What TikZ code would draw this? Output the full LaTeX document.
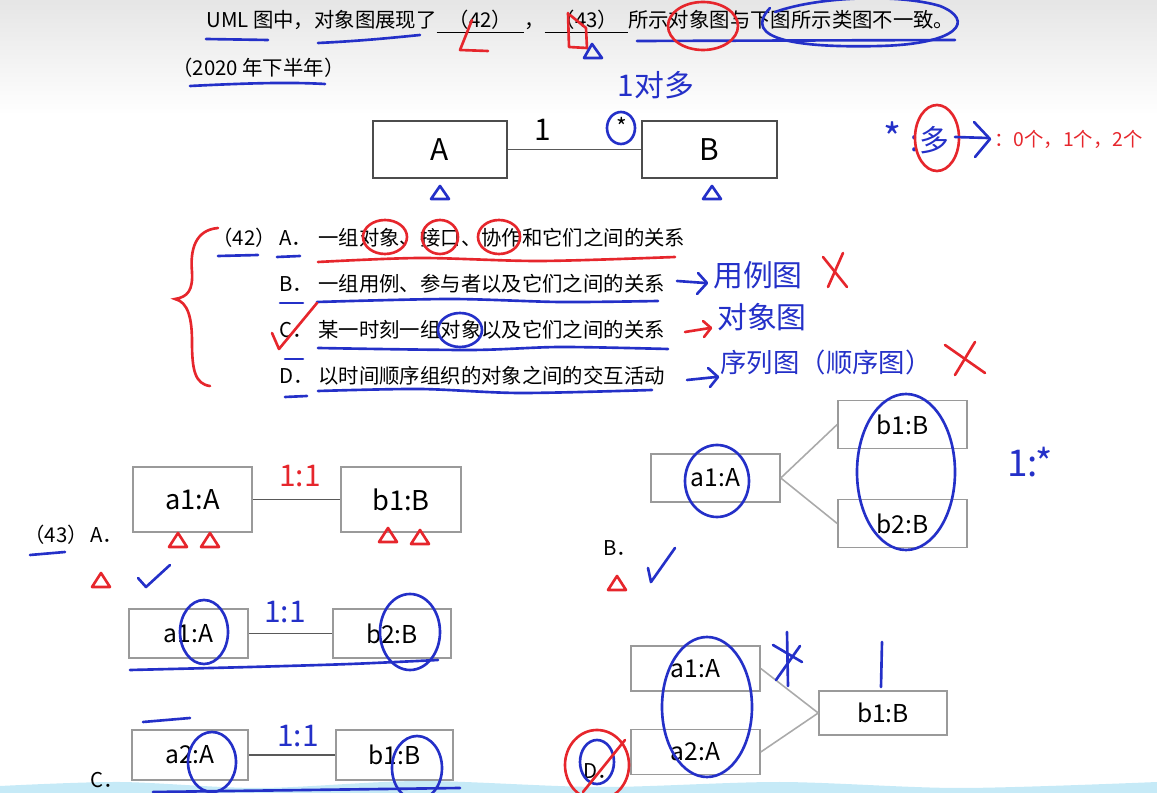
\documentclass[tikz,border=0pt]{standalone}
\usepackage{fontspec}
\setmainfont{Noto Sans CJK SC}
\usetikzlibrary{positioning}
\definecolor{penblue}{HTML}{2430C8}
\definecolor{penred}{HTML}{E6262C}
\definecolor{boxgray}{HTML}{9A9A9A}
\definecolor{linegray}{HTML}{AAAAAA}
\definecolor{wavecol}{HTML}{C6EAF7}
\newcommand\blankfill[2]{\underline{\makebox[#1]{#2}}}

\tikzset{
  body/.style={font=\fontsize{11.6}{14}\selectfont, inner sep=0pt},
  classbox/.style={draw=black!70, fill=white, line width=0.9pt, inner sep=0pt,
    minimum width=2.7cm, minimum height=1.14cm, font=\fontsize{17}{20}\selectfont},
  objbox/.style={draw=boxgray, fill=white, line width=0.9pt, inner sep=0pt,
    minimum width=2.58cm, minimum height=0.96cm, font=\fontsize{14}{17}\selectfont},
  link/.style={draw=black!65, line width=0.8pt},
  softlink/.style={draw=linegray, line width=0.9pt},
  bluepen/.style={draw=penblue, line width=1.5pt, line cap=round, line join=round},
  redpen/.style={draw=penred, line width=1.5pt, line cap=round, line join=round},
  bluenote/.style={text=penblue, inner sep=0pt, font=\fontsize{17}{20}\selectfont},
  rednote/.style={text=penred, inner sep=0pt, font=\fontsize{17}{20}\selectfont},
}

\begin{document}
\begin{tikzpicture}[x=0.02cm, y=-0.02cm]
  \useasboundingbox (0,0) rectangle (1157,793);
  \clip (0,0) rectangle (1157,793);
  % screen background
  \shade[top color=black!10, bottom color=white] (0,0) rectangle (1157,115);
  \fill[wavecol] plot[smooth] coordinates {(0,786) (120,782) (260,788) (420,781) (600,787) (780,782) (960,788) (1157,782)}
    -- (1157,793) -- (0,793) -- cycle;

  % question text
  \node[body, anchor=west] (title) at (206,22)
    {UML 图中，对象图展现了\blankfill{4.3em}{（42）}，\blankfill{4.1em}{（43）}所示对象图与下图所示类图不一致。};
  \node[body, anchor=west] (year) at (172,68) {（2020 年下半年）};

  % class diagram
  \node[classbox, minimum width=2.68cm] (A) at (440,149.5) {A};
  \node[classbox] (B) at (709.5,149.5) {B};
  \draw[link] (A) -- (B);
  \node[inner sep=0pt, font=\fontsize{17}{20}\selectfont] (one) at (543,130) {1};
  \node[inner sep=0pt, font=\fontsize{13}{15}\selectfont] (many) at (622,126) {*};

  % question 42
  \node[body, anchor=west] (q42) at (212,238) {（42）};
  \node[body, anchor=west] (la) at (279,238) {A．};
  \node[body, anchor=west] (ta) at (318,238) {一组对象、接口、协作和它们之间的关系};
  \node[body, anchor=west] (lb) at (279,284) {B．};
  \node[body, anchor=west] (tb) at (318,284) {一组用例、参与者以及它们之间的关系};
  \node[body, anchor=west] (lc) at (279,330) {C．};
  \node[body, anchor=west] (tc) at (318,330) {某一时刻一组对象以及它们之间的关系};
  \node[body, anchor=west] (ld) at (279,376) {D．};
  \node[body, anchor=west] (td) at (318,376) {以时间顺序组织的对象之间的交互活动};

  % question 43
  \node[body, anchor=west] (q43) at (24,535) {（43）};
  \node[body, anchor=west] (oa) at (90,535) {A．};
  \node[body, anchor=west] (ob) at (603,548) {B．};
  \node[body, anchor=west] (oc) at (90,780) {C．};
  \node[body, anchor=west] (od) at (583,771) {D．};

  % option A
  \node[objbox, minimum width=2.38cm, minimum height=1.3cm, font=\fontsize{15.5}{18}\selectfont] (aa1) at (192.5,499.5) {a1:A};
  \node[objbox, minimum width=2.4cm, minimum height=1.3cm, font=\fontsize{15.5}{18}\selectfont] (ab1) at (401,499.5) {b1:B};
  \draw[link] (aa1) -- (ab1);

  % option B
  \node[objbox] (ba1) at (715.5,478) {a1:A};
  \node[objbox] (bb1) at (902.5,424.5) {b1:B};
  \node[objbox] (bb2) at (902.5,523.5) {b2:B};
  \draw[softlink] (ba1.east) -- (bb1.west);
  \draw[softlink] (ba1.east) -- (bb2.west);

  % option C
  \node[objbox, minimum width=2.38cm, minimum height=0.98cm] (ca1) at (188.5,633.5) {a1:A};
  \node[objbox, minimum width=2.36cm, minimum height=0.98cm] (cb2) at (392,633.5) {b2:B};
  \draw[link] (ca1) -- (cb2);
  \node[objbox, minimum width=2.32cm, minimum height=1cm] (ca2) at (190,755) {a2:A};
  \node[objbox, minimum width=2.34cm, minimum height=1cm] (cb1) at (394.5,755) {b1:B};
  \draw[link] (ca2) -- (cb1);

  % option D
  \node[objbox, minimum height=0.9cm] (da1) at (695.5,668.5) {a1:A};
  \node[objbox, minimum height=0.9cm] (da2) at (695.5,752) {a2:A};
  \node[objbox, minimum width=2.56cm, minimum height=0.88cm] (db1) at (883,713) {b1:B};
  \draw[softlink] (da1.east) -- (db1.west);
  \draw[softlink] (da2.east) -- (db1.west);

  % pen marks: title
  \draw[bluepen] (206,39) -- (268,40);
  \draw[bluepen] (318,43) .. controls (360,41) and (390,38) .. (420,35);
  \draw[bluepen] (637,41) -- (955,40);
  \draw[bluepen] (770,8) .. controls (740,40) and (800,48) .. (880,46)
    .. controls (960,44) and (975,20) .. (940,6) .. controls (900,-6) and (820,-4) .. (775,12);
  \draw[redpen] (703,26) ellipse [x radius=35, y radius=24];
  \draw[redpen] (472,20) -- (460,50) -- (488,51);
  \draw[redpen] (568,13) -- (569,47) -- (587,48) -- (586,28) -- (570,15);
  \draw[bluepen] (584,58) -- (592,44) -- (602,58) -- cycle;
  \draw[bluepen] (190,86) .. controls (250,83) and (290,82) .. (325,84);

  % pen marks: class diagram
  \node[bluenote] (note1) at (656,85) {1对多};
  \draw[bluepen] (621,128) ellipse [x radius=14, y radius=16];
  \foreach \x/\y in {440/193,712/193}
    \draw[bluepen] (\x-9,\y+6) -- (\x,\y-7) -- (\x+9,\y+6) -- cycle;
  \node[bluenote, font=\fontsize{22}{24}\selectfont] (star) at (893,137) {*};
  \node[bluenote] (duo) at (930,140) {:多};
  \draw[redpen] (937,138) ellipse [x radius=22, y radius=33];
  \draw[bluepen] (955,137) -- (988,138);
  \draw[bluepen] (974,122) -- (990,139) -- (975,157);
  \node[rednote, anchor=west, font=\fontsize{11}{13}\selectfont] (count) at (994,139) {：0个，1个，2个};

  % pen marks: question 42
  \draw[penred, line width=1.5pt, line cap=round] (218,228) .. controls (195,230) and (190,250) .. (192,272)
    .. controls (193,290) and (188,297) .. (175,299)
    .. controls (188,302) and (192,318) .. (192,342)
    .. controls (192,370) and (195,384) .. (210,386);
  \foreach \x/\r in {385/22,440/18,499/21}
    \draw[redpen] (\x,237) ellipse [x radius=\r, y radius=17];
  \draw[redpen] plot[smooth] coordinates {(318,262) (420,258) (540,261) (675,257)};
  \draw[bluepen] (218,256) -- (258,255);
  \draw[bluepen] (277,257) -- (300,256);
  \draw[bluepen] (280,303) -- (303,303);
  \draw[bluepen] (285,359) -- (303,359);
  \draw[bluepen] (285,397) -- (307,396);
  \draw[bluepen] plot[smooth] coordinates {(317,302) (450,299) (560,302) (658,301)};
  \draw[bluepen] plot[smooth] coordinates {(318,348) (470,350) (560,347) (668,349)};
  \draw[bluepen] plot[smooth] coordinates {(318,391) (420,389) (520,393) (652,390)};
  \draw[redpen] (272,333) -- (279,349) -- (317,303);
  \draw[bluepen] (460,330) ellipse [x radius=22, y radius=17];
  \draw[bluepen] (677,281) -- (705,283);
  \draw[bluepen] (698,273) -- (707,283) -- (697,294);
  \node[bluenote] (uc) at (758,275) {用例图};
  \draw[redpen] (823,257) -- (847,287);
  \draw[redpen] (843,253) -- (828,287);
  \draw[redpen] (685,332) -- (710,328);
  \draw[redpen] (703,321) -- (711,328) -- (704,337);
  \node[bluenote] (od2) at (762,317) {对象图};
  \draw[bluepen] (687,380) -- (716,377);
  \draw[bluepen] (708,368) -- (718,377) -- (710,387);
  \node[bluenote, font=\fontsize{15}{18}\selectfont] (seq) at (826,362) {序列图（顺序图）};
  \draw[redpen] (945,345) -- (985,373);
  \draw[redpen] (975,342) -- (955,375);

  % pen marks: question 43
  \draw[bluepen] (30,555) -- (65,552);
  \node[rednote] (r11) at (300,476) {1:1};
  \foreach \x/\y in {178/540,210/540,388/535,420/537,101/580,617/583}
    \draw[redpen] (\x-9,\y+7) -- (\x,\y-7) -- (\x+9,\y+7) -- cycle;
  \draw[bluepen] (138,578) -- (146,587) -- (170,565);
  \draw[bluepen] (648,568) -- (651,582) -- (675,548);
  \draw[bluepen] (717,481) ellipse [x radius=32, y radius=36];
  \draw[bluepen] (906,472) ellipse [x radius=49, y radius=78];
  \node[bluenote, font=\fontsize{21}{24}\selectfont] (b1s) at (1030,462) {1:*};
  \draw[bluepen] (204,632) ellipse [x radius=24, y radius=32];
  \draw[bluepen] (410,632) ellipse [x radius=30, y radius=38];
  \draw[bluepen] plot[smooth] coordinates {(130,670) (250,667) (350,664) (438,660)};
  \node[bluenote] (c11) at (285,612) {1:1};
  \draw[bluepen] (143,722) -- (190,718);
  \draw[bluepen] (212,762) ellipse [x radius=24, y radius=30];
  \draw[bluepen] (417,768) ellipse [x radius=25, y radius=32];
  \draw[bluepen] (153,792) -- (460,788);
  \node[bluenote] (c12) at (298,736) {1:1};
  \draw[bluepen] (707,707) ellipse [x radius=45, y radius=70];
  \draw[bluepen] (787,632) -- (788,686);
  \draw[bluepen] (773,645) -- (802,662);
  \draw[bluepen] (776,680) -- (800,646);
  \draw[bluepen] (882,642) -- (881,687);
  \draw[bluepen] (597,762) ellipse [x radius=17, y radius=22];
  \draw[redpen] (597,765) ellipse [x radius=32, y radius=35];
  \draw[redpen] (583,792) -- (625,740);
\end{tikzpicture}
\end{document}
